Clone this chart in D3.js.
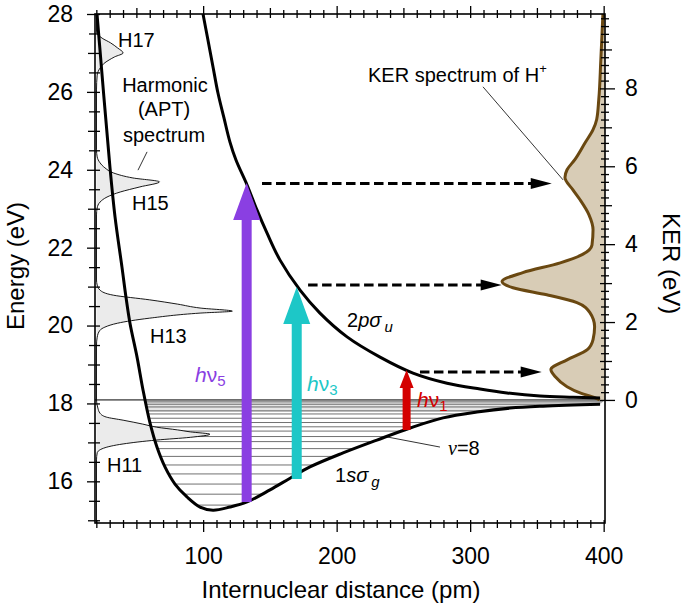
<!DOCTYPE html>
<html><head><meta charset="utf-8">
<script src="https://cdn.jsdelivr.net/npm/d3@7"></script>
<style>
body{margin:0;background:#fff}
svg{display:block}
text{font-family:"Liberation Sans",Arial,Helvetica,sans-serif;fill:#000}
</style>
</head><body>
<svg id="chart" width="685" height="605"></svg>
<script>
// ---------------- data ----------------
const xDomain = [19, 401];                 // internuclear distance (pm)
const energyDomain = [14.93, 28];          // energy (eV)
const dissociationLimit = 18.09;           // KER = 0 reference (eV)
const xTickValues = d3.range(20, 401, 10);
const xTickLabels = [100, 200, 300, 400];
const energyTickValues = d3.range(15, 28.01, 0.5);
const energyTickLabels = [16, 18, 20, 22, 24, 26, 28];
const kerTickValues = d3.range(0, 9.81, 0.2);
const kerTickLabels = [0, 2, 4, 6, 8];

// 1s sigma_g potential curve
const groundR = [20.5, 30.2, 34.0, 39.2, 42.2, 45.2, 50.5, 55.0, 60.2, 65.4, 71.4, 78.9, 87.9, 97.7, 107.4, 120.1, 132.9, 150.1, 165.1, 180.0, 204.8, 230.2, 255.0, 279.7, 305.1, 329.9, 354.6, 397.3];
const groundE = [28.0, 24.07, 22.79, 21.50, 20.73, 20.06, 19.19, 18.34, 17.50, 16.88, 16.37, 15.93, 15.60, 15.34, 15.26, 15.34, 15.47, 15.78, 16.08, 16.37, 16.73, 17.06, 17.37, 17.63, 17.78, 17.88, 17.93, 17.98];

// 2p sigma_u potential curve
const repulsiveR = [99.9, 103.6, 107.4, 111.1, 115.6, 120.1, 124.6, 132.9, 140.3, 147.8, 157.6, 172.6, 187.5, 207.8, 232.5, 257.2, 282.7, 307.4, 327.6, 352.3, 377.1, 397.3];
const repulsiveE = [28.0, 27.33, 26.64, 25.97, 25.33, 24.71, 24.25, 23.61, 22.97, 22.38, 21.68, 20.91, 20.32, 19.71, 19.19, 18.78, 18.52, 18.37, 18.27, 18.19, 18.16, 18.14];

// vibrational levels of the bound state (eV)
const vibLevels = [15.39, 15.67, 15.93, 16.19, 16.42, 16.64, 16.84, 17.02, 17.15, 17.29, 17.40, 17.51, 17.62, 17.73, 17.81, 17.91, 17.98, 18.04];
const denseBandBottom = 17.78;

// harmonic (APT) spectrum: energy (eV) vs relative intensity
const harmonicE = [28.0, 27.54, 27.38, 27.26, 27.13, 27.0, 26.9, 26.82, 26.72, 26.61, 26.43, 26.05,
  24.51, 24.33, 24.18, 24.05, 23.92, 23.79, 23.69, 23.56, 23.43, 23.30, 23.17, 23.02, 22.84,
  21.17, 21.04, 20.91, 20.78, 20.66, 20.55, 20.45, 20.37, 20.32, 20.19, 20.06, 19.96, 19.88, 19.70, 19.50,
  18.09, 17.88, 17.75, 17.65, 17.57, 17.47, 17.39, 17.32, 17.27, 17.21, 17.13, 17.06, 16.96, 16.85, 16.73, 16.55, 14.93];
const harmonicI = [0, 0, 0.04, 0.10, 0.15, 0.19, 0.13, 0.09, 0.05, 0.025, 0.005, 0,
  0, 0.005, 0.025, 0.06, 0.12, 0.26, 0.45, 0.31, 0.17, 0.075, 0.025, 0.005, 0,
  0, 0.005, 0.025, 0.12, 0.38, 0.58, 0.74, 0.97, 0.74, 0.38, 0.15, 0.06, 0.025, 0.005, 0,
  0, 0.01, 0.025, 0.07, 0.19, 0.33, 0.43, 0.58, 0.67, 0.81, 0.67, 0.43, 0.19, 0.05, 0.005, 0, 0];

// KER spectrum of H+: KER (eV) vs relative intensity
const kerValues = [9.91, 8.74, 7.71, 7.20, 6.94, 6.61, 6.17, 5.91, 5.71, 5.40, 5.14, 4.76, 4.37, 3.98, 3.73, 3.52, 3.27, 3.04, 2.88, 2.70, 2.50, 2.24, 1.88, 1.55, 1.29, 1.03, 0.78, 0.60, 0.34, 0.18, 0.06, 0.0];
const kerIntensity = [0.02, 0.04, 0.06, 0.08, 0.115, 0.19, 0.29, 0.365, 0.385, 0.31, 0.24, 0.155, 0.115, 0.125, 0.22, 0.43, 0.79, 0.99, 0.885, 0.56, 0.27, 0.145, 0.10, 0.115, 0.17, 0.365, 0.52, 0.48, 0.365, 0.24, 0.10, 0.05];

// photon excitation arrows
const photonOrder = ["5", "3", "1"];
const photonR = [132.6, 170.1, 252.4];
const photonEStart = [15.47, 16.06, 17.32];
const photonEEnd = [23.66, 20.99, 18.86];
const photonColors = ["#8a3fe2", "#1dc7c7", "#d40000"];

// dissociation (dashed) arrows
const fragmentE = [23.65, 21.04, 18.81];
const fragmentR0 = [144.1, 178.6, 262.4];
const fragmentR1 = [361.1, 323.6, 353.6];

// ---------------- drawing ----------------
const svg = d3.select("#chart");
const L = 95, R = 605, T = 14, B = 523;
const x = d3.scaleLinear().domain(xDomain).range([L, R]);
const y = d3.scaleLinear().domain(energyDomain).range([B, T]);
const ker = d3.scaleLinear().domain([energyDomain[0] - dissociationLimit, energyDomain[1] - dissociationLimit]).range([B, T]);
const harmX = d3.scaleLinear().domain([0, 1]).range([96.5, 236.5]);
const kerX = d3.scaleLinear().domain([0, 1]).range([R, R - 104]);

const defs = svg.append("defs");
defs.append("clipPath").attr("id", "plot").append("rect").attr("x", L).attr("y", T).attr("width", R - L).attr("height", B - T);
const groundPts = groundR.map((r, i) => [x(r), y(groundE[i])]);
const wellPoly = groundPts.concat([[x(xDomain[1]), y(dissociationLimit)], [x(xDomain[0]), y(dissociationLimit)]]);
defs.append("clipPath").attr("id", "well").append("path").attr("d", "M" + wellPoly.map(p => p.join(",")).join("L") + "Z");

const plot = svg.append("g").attr("clip-path", "url(#plot)");

// dense band + vibrational levels
const well = plot.append("g").attr("clip-path", "url(#well)");
well.append("rect").attr("x", L).attr("width", R - L)
  .attr("y", y(dissociationLimit)).attr("height", y(denseBandBottom) - y(dissociationLimit))
  .attr("fill", "#e6e6e6");
well.selectAll("line.lev").data(vibLevels).join("line")
  .attr("x1", L).attr("x2", R).attr("y1", d => y(d)).attr("y2", d => y(d))
  .attr("stroke", "#333").attr("stroke-width", 0.7);

// dissociation limit line
plot.append("line").attr("x1", L).attr("x2", R).attr("y1", y(dissociationLimit)).attr("y2", y(dissociationLimit))
  .attr("stroke", "#000").attr("stroke-width", 1);

// harmonic spectrum
const harmPts = harmonicE.map((e, i) => ({e, v: harmonicI[i]}));
plot.append("path").datum(harmPts)
  .attr("d", d3.area().y(d => y(d.e)).x0(harmX(0)).x1(d => harmX(d.v)).curve(d3.curveMonotoneY))
  .attr("fill", "#ebebeb");
plot.append("path").datum(harmPts)
  .attr("d", d3.line().y(d => y(d.e)).x(d => harmX(d.v)).curve(d3.curveMonotoneY))
  .attr("fill", "none").attr("stroke", "#000").attr("stroke-width", 0.9);

// KER spectrum
const kerPts = kerValues.map((k, i) => ({k, v: kerIntensity[i]}));
plot.append("path").datum(kerPts)
  .attr("d", d3.area().y(d => ker(d.k)).x0(kerX(0)).x1(d => kerX(d.v)).curve(d3.curveMonotoneY))
  .attr("fill", "#d8ccb6");
plot.append("path").datum(kerPts)
  .attr("d", d3.line().y(d => ker(d.k)).x(d => kerX(d.v)).curve(d3.curveMonotoneY))
  .attr("fill", "none").attr("stroke", "#6a4811").attr("stroke-width", 3);

// potential curves
const curve = d3.line().curve(d3.curveCatmullRom.alpha(0.5));
plot.append("path").attr("d", curve(groundPts)).attr("fill", "none").attr("stroke", "#000").attr("stroke-width", 3);
plot.append("path").attr("d", curve(repulsiveR.map((r, i) => [x(r), y(repulsiveE[i])])))
  .attr("fill", "none").attr("stroke", "#000").attr("stroke-width", 3);

// photon arrows
const arrowStyle = [{sw: 10, hw: 27, hl: 37}, {sw: 10, hw: 27, hl: 37}, {sw: 8, hw: 14, hl: 18}];
photonR.forEach((r, i) => {
  const s = arrowStyle[i], xc = x(r), yb = y(photonEStart[i]), yt = y(photonEEnd[i]);
  const p = [[xc - s.sw / 2, yb], [xc - s.sw / 2, yt + s.hl], [xc - s.hw / 2, yt + s.hl], [xc, yt],
    [xc + s.hw / 2, yt + s.hl], [xc + s.sw / 2, yt + s.hl], [xc + s.sw / 2, yb]];
  plot.append("path").attr("d", "M" + p.map(q => q.join(",")).join("L") + "Z").attr("fill", photonColors[i]);
});

// dashed dissociation arrows
fragmentE.forEach((e, i) => {
  const yy = y(e), x0 = x(fragmentR0[i]), x1 = x(fragmentR1[i]);
  plot.append("line").attr("x1", x0).attr("x2", x1 - 18).attr("y1", yy).attr("y2", yy)
    .attr("stroke", "#000").attr("stroke-width", 3).attr("stroke-dasharray", "9.5,4.5");
  plot.append("path").attr("d", `M${x1},${yy}L${x1 - 21},${yy - 5.5}L${x1 - 21},${yy + 5.5}Z`).attr("fill", "#000");
});

// leader lines
const leader = (r0, e0, r1, e1) => svg.append("line").attr("x1", x(r0)).attr("y1", y(e0)).attr("x2", x(r1)).attr("y2", y(e1))
  .attr("stroke", "#000").attr("stroke-width", 0.8);
leader(51.2, 23.99, 58.0, 24.46);
leader(237.7, 17.14, 277.4, 16.88);
leader(309.6, 26.13, 369.6, 23.74);

// annotations
const FS = 20;
const txt = (r, e, s, anchor) => svg.append("text").attr("x", x(r)).attr("y", y(e)).attr("font-size", FS)
  .attr("text-anchor", anchor || "start").text(s);
txt(36.2, 27.15, "H17");
txt(71.4, 26.0, "Harmonic", "middle");
txt(70.7, 25.38, "(APT)", "middle");
txt(70.7, 24.71, "spectrum", "middle");
txt(46.7, 22.97, "H15");
txt(60.2, 19.55, "H13");
txt(28.0, 16.24, "H11");

const photonLabelPos = [[93.9, 18.55], [177.8, 18.32], [260.2, 17.91]];
photonOrder.forEach((n, i) => {
  const t = svg.append("text").attr("x", x(photonLabelPos[i][0])).attr("y", y(photonLabelPos[i][1]))
    .attr("font-size", 21).style("fill", photonColors[i]);
  t.append("tspan").attr("font-style", "italic").text("h");
  t.append("tspan").text("ν");
  t.append("tspan").attr("font-size", 15).attr("dy", 4).text(n);
});

const st1 = svg.append("text").attr("x", x(207.8)).attr("y", y(19.96)).attr("font-size", FS);
st1.append("tspan").text("2");
st1.append("tspan").attr("font-style", "italic").text("pσ");
st1.append("tspan").attr("font-style", "italic").attr("font-size", 15).attr("dx", 3).attr("dy", 5).text("u");

const st2 = svg.append("text").attr("x", x(198.8)).attr("y", y(15.98)).attr("font-size", FS);
st2.append("tspan").text("1");
st2.append("tspan").attr("font-style", "italic").text("sσ");
st2.append("tspan").attr("font-style", "italic").attr("font-size", 15).attr("dx", 3).attr("dy", 5).text("g");

const st3 = svg.append("text").attr("x", x(283.4)).attr("y", y(16.67)).attr("font-size", FS);
st3.append("tspan").attr("font-family", "'Liberation Serif',serif").attr("font-style", "italic").text("ν");
st3.append("tspan").text("=8");

const st4 = svg.append("text").attr("x", x(223.5)).attr("y", y(26.25)).attr("font-size", FS);
st4.append("tspan").text("KER spectrum of H");
st4.append("tspan").attr("font-size", 13).attr("dy", -9).text("+");

// ---------------- axes ----------------
const isMult = (d, m) => Math.abs(d / m - Math.round(d / m)) < 1e-6;
const fontAxis = 23;

const gB = svg.append("g").attr("transform", `translate(0,${B})`)
  .call(d3.axisBottom(x).tickValues(xTickValues).tickFormat(d => xTickLabels.includes(d) ? d : ""));
gB.select(".domain").remove();
gB.selectAll(".tick line").attr("y1", -3).attr("y2", d => isMult(d, 100) ? 9 : (isMult(d, 50) ? 6 : 5)).attr("stroke-width", 1.3);
gB.selectAll(".tick text").attr("y", 25).attr("font-size", fontAxis).attr("font-family", null);

const gT = svg.append("g").attr("transform", `translate(0,${T})`)
  .call(d3.axisTop(x).tickValues(xTickValues).tickFormat(""));
gT.select(".domain").remove();
gT.selectAll(".tick line").attr("y1", 4).attr("y2", d => isMult(d, 100) ? -8 : (isMult(d, 50) ? -6 : -4)).attr("stroke-width", 1.3);

const gL = svg.append("g").attr("transform", `translate(${L},0)`)
  .call(d3.axisLeft(y).tickValues(energyTickValues).tickFormat(d => energyTickLabels.some(v => Math.abs(v - d) < 1e-6) ? d : ""));
gL.select(".domain").remove();
gL.selectAll(".tick line").attr("x1", 5).attr("x2", d => isMult(d, 2) ? -8 : (isMult(d, 1) ? -7 : -6)).attr("stroke-width", 1.3);
gL.selectAll(".tick text").attr("x", -22).attr("font-size", fontAxis).attr("font-family", null);

const gR = svg.append("g").attr("transform", `translate(${R},0)`)
  .call(d3.axisRight(ker).tickValues(kerTickValues).tickFormat(d => (isMult(d, 2) && kerTickLabels.includes(Math.round(d))) ? Math.round(d) : ""));
gR.select(".domain").remove();
gR.selectAll(".tick line").attr("x1", d => isMult(d, 1) ? -5 : -4).attr("x2", d => isMult(d, 2) ? 10 : (isMult(d, 1) ? 7 : 4)).attr("stroke-width", 1.3);
gR.selectAll(".tick text").attr("x", 20).attr("font-size", fontAxis).attr("font-family", null);

// frame
svg.append("rect").attr("x", L).attr("y", T).attr("width", R - L).attr("height", B - T)
  .attr("fill", "none").attr("stroke", "#000").attr("stroke-width", 1.6);

// axis titles
svg.append("text").attr("x", (L + R) / 2 - 9).attr("y", 598).attr("text-anchor", "middle").attr("font-size", 24)
  .text("Internuclear distance (pm)");
svg.append("text").attr("transform", `translate(24,${y(21.53)}) rotate(-90)`).attr("text-anchor", "middle").attr("font-size", 24)
  .text("Energy (eV)");
svg.append("text").attr("transform", `translate(663,${ker(3.5)}) rotate(90)`).attr("text-anchor", "middle").attr("font-size", 24)
  .text("KER (eV)");
</script>
</body></html>
